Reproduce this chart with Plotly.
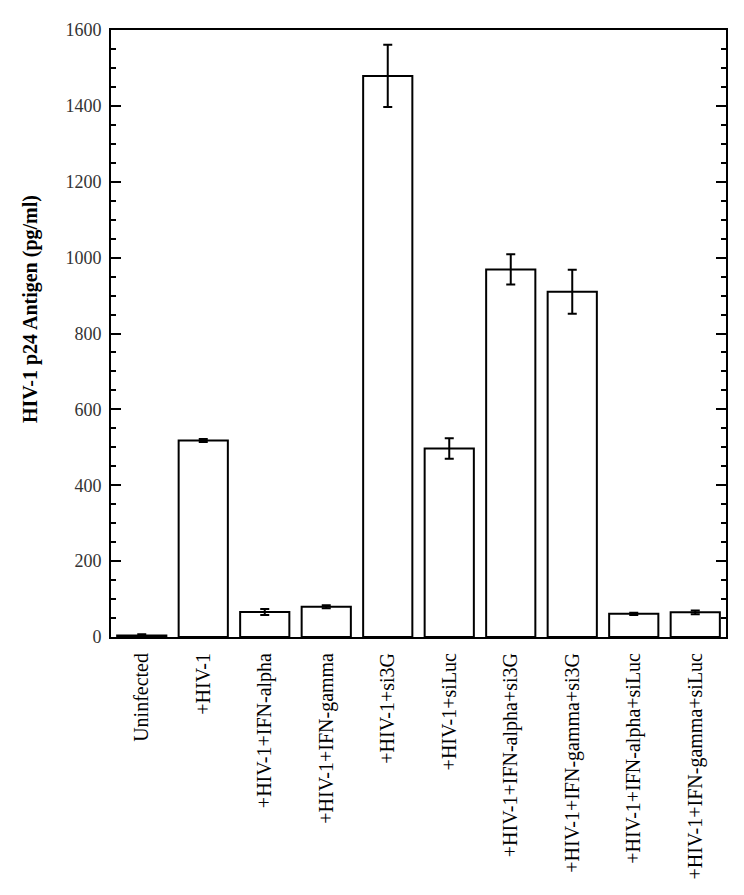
import plotly.graph_objects as go

# Data
categories = [
    "Uninfected",
    "+HIV-1",
    "+HIV-1+IFN-alpha",
    "+HIV-1+IFN-gamma",
    "+HIV-1+si3G",
    "+HIV-1+siLuc",
    "+HIV-1+IFN-alpha+si3G",
    "+HIV-1+IFN-gamma+si3G",
    "+HIV-1+IFN-alpha+siLuc",
    "+HIV-1+IFN-gamma+siLuc",
]
p24_values = [4, 518, 66, 80, 1479, 497, 969, 910, 61, 65]
p24_errors = [3, 4, 8, 4, 82, 27, 40, 58, 3, 5]

FONT = "Liberation Serif, Times New Roman, serif"

fig = go.Figure()

fig.add_trace(go.Bar(
    x=categories,
    y=p24_values,
    width=0.8,
    marker=dict(color="white", line=dict(color="black", width=2)),
    error_y=dict(type="data", array=p24_errors, visible=True,
                 color="black", thickness=2, width=4.5),
    showlegend=False,
))

# y title as an annotation: in the original it sits a little above centre
fig.add_annotation(
    text="<b>HIV-1 p24 Antigen (pg/ml)</b>",
    xref="paper", yref="paper",
    x=-0.132, y=0.54,
    xanchor="center", yanchor="middle",
    textangle=-90, showarrow=False,
    font=dict(family=FONT, size=20, color="black"),
)

# page body has an 8px margin, so the figure is a bit smaller than the window
fig.update_layout(
    width=736,
    height=887,
    paper_bgcolor="white",
    plot_bgcolor="white",
    font=dict(family=FONT, size=17, color="#222"),
    margin=dict(l=103, r=18, t=16, b=258),
    xaxis=dict(
        type="category",
        showline=True, linecolor="black", linewidth=2, mirror=True,
        ticks="", tickangle=-90, ticklabelstandoff=6,
        tickfont=dict(family=FONT, size=20, color="black"),
        showgrid=False,
    ),
    yaxis=dict(
        range=[0, 1600],
        dtick=200,
        showline=True, linecolor="black", linewidth=2, mirror="allticks",
        ticks="inside", ticklen=10, tickwidth=2, tickcolor="black",
        minor=dict(dtick=50, ticks="inside", ticklen=5, tickwidth=2,
                   tickcolor="black", showgrid=False),
        showgrid=False, zeroline=False, ticklabelstandoff=4,
        tickfont=dict(family=FONT, size=18, color="#333"),
    ),
)

fig.write_html("out.html")
